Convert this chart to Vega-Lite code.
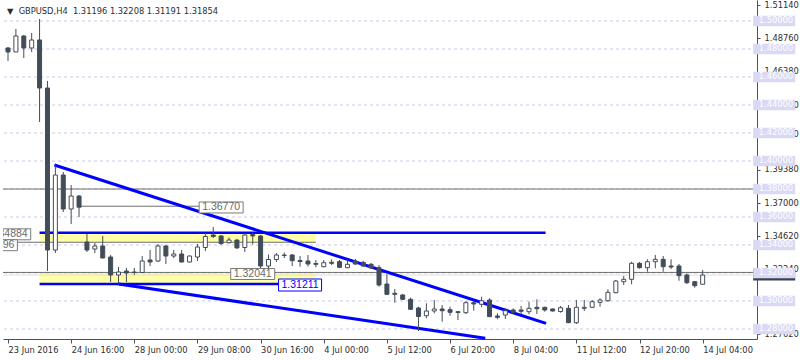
{
  "$schema": "https://vega.github.io/schema/vega-lite/v6.json",
  "autosize": {"type": "none"},
  "width": 754,
  "height": 339,
  "padding": {"left": 3, "top": 0, "right": 43, "bottom": 21},
  "background": "white",
  "config": {"view": {"stroke": null}, "font": "DejaVu Sans"},
  "title": {
    "text": "▼\u00a0\u00a0GBPUSD,H4\u00a0\u00a01.31196 1.32208 1.31191 1.31854",
    "anchor": "start", "frame": "group", "orient": "top", "offset": -22, "dx": 4,
    "font": "DejaVu Sans", "fontSize": 8.3, "fontWeight": "normal", "color": "#2e2e2e", "baseline": "alphabetic"
  },
  "datasets": {
    "candles": [
      {"i":0,"o":1.48071,"h":1.48143,"l":1.47143,"c":1.47786},
      {"i":1,"o":1.47786,"h":1.49429,"l":1.47786,"c":1.48929},
      {"i":2,"o":1.48929,"h":1.49000,"l":1.47357,"c":1.48071},
      {"i":3,"o":1.48071,"h":1.49143,"l":1.47786,"c":1.48643},
      {"i":4,"o":1.48643,"h":1.50143,"l":1.42786,"c":1.45214},
      {"i":5,"o":1.45214,"h":1.45714,"l":1.32143,"c":1.33643},
      {"i":6,"o":1.33643,"h":1.39714,"l":1.33429,"c":1.39000},
      {"i":7,"o":1.39000,"h":1.39214,"l":1.36357,"c":1.36571},
      {"i":8,"o":1.36571,"h":1.38286,"l":1.35500,"c":1.37500},
      {"i":9,"o":1.37500,"h":1.37571,"l":1.36000,"c":1.36700},
      {"i":10,"o":1.34214,"h":1.34786,"l":1.33500,"c":1.33643},
      {"i":11,"o":1.33714,"h":1.34143,"l":1.33429,"c":1.33929},
      {"i":12,"o":1.33929,"h":1.34643,"l":1.33050,"c":1.33071},
      {"i":13,"o":1.33143,"h":1.33286,"l":1.31357,"c":1.31857},
      {"i":14,"o":1.31857,"h":1.32429,"l":1.31211,"c":1.32071},
      {"i":15,"o":1.32143,"h":1.32357,"l":1.31357,"c":1.32000},
      {"i":16,"o":1.32071,"h":1.32357,"l":1.31857,"c":1.32036},
      {"i":17,"o":1.32036,"h":1.33214,"l":1.32000,"c":1.32857},
      {"i":18,"o":1.32929,"h":1.33643,"l":1.32500,"c":1.32786},
      {"i":19,"o":1.32857,"h":1.34071,"l":1.32786,"c":1.33929},
      {"i":20,"o":1.33929,"h":1.34000,"l":1.32643,"c":1.33214},
      {"i":21,"o":1.33214,"h":1.33643,"l":1.33071,"c":1.33357},
      {"i":22,"o":1.33357,"h":1.33643,"l":1.32750,"c":1.32786},
      {"i":23,"o":1.32786,"h":1.33250,"l":1.32750,"c":1.33214},
      {"i":24,"o":1.33143,"h":1.34071,"l":1.32857,"c":1.33857},
      {"i":25,"o":1.33821,"h":1.34857,"l":1.33571,"c":1.34607},
      {"i":26,"o":1.34714,"h":1.35286,"l":1.34500,"c":1.34607},
      {"i":27,"o":1.34643,"h":1.34714,"l":1.34000,"c":1.34107},
      {"i":28,"o":1.34164,"h":1.34536,"l":1.34107,"c":1.34357},
      {"i":29,"o":1.34357,"h":1.34393,"l":1.33750,"c":1.33786},
      {"i":30,"o":1.33821,"h":1.34857,"l":1.33500,"c":1.34714},
      {"i":31,"o":1.34750,"h":1.34857,"l":1.34036,"c":1.34643},
      {"i":32,"o":1.34643,"h":1.34714,"l":1.32143,"c":1.32500},
      {"i":33,"o":1.32500,"h":1.33321,"l":1.32286,"c":1.32964},
      {"i":34,"o":1.32964,"h":1.33429,"l":1.32786,"c":1.33286},
      {"i":35,"o":1.33250,"h":1.33464,"l":1.33071,"c":1.33286},
      {"i":36,"o":1.33286,"h":1.33357,"l":1.32500,"c":1.32879},
      {"i":37,"o":1.32893,"h":1.33214,"l":1.32450,"c":1.32821},
      {"i":38,"o":1.32857,"h":1.33286,"l":1.32464,"c":1.32643},
      {"i":39,"o":1.32679,"h":1.32929,"l":1.32407,"c":1.32621},
      {"i":40,"o":1.32450,"h":1.32929,"l":1.32407,"c":1.32736},
      {"i":41,"o":1.32764,"h":1.32979,"l":1.32571,"c":1.32693},
      {"i":42,"o":1.32807,"h":1.32929,"l":1.32336,"c":1.32407},
      {"i":43,"o":1.32379,"h":1.32979,"l":1.32336,"c":1.32621},
      {"i":44,"o":1.32857,"h":1.33000,"l":1.32571,"c":1.32643},
      {"i":45,"o":1.32764,"h":1.32857,"l":1.32429,"c":1.32500},
      {"i":46,"o":1.32621,"h":1.32714,"l":1.32286,"c":1.32357},
      {"i":47,"o":1.32379,"h":1.32571,"l":1.31021,"c":1.31143},
      {"i":48,"o":1.31214,"h":1.31907,"l":1.30429,"c":1.30479},
      {"i":49,"o":1.30550,"h":1.30857,"l":1.29879,"c":1.30479},
      {"i":50,"o":1.30429,"h":1.30500,"l":1.30071,"c":1.30121},
      {"i":51,"o":1.30121,"h":1.30236,"l":1.29357,"c":1.29407},
      {"i":52,"o":1.29500,"h":1.29593,"l":1.27857,"c":1.28893},
      {"i":53,"o":1.28950,"h":1.29836,"l":1.28764,"c":1.29286},
      {"i":54,"o":1.29286,"h":1.30071,"l":1.29121,"c":1.29429},
      {"i":55,"o":1.29429,"h":1.29714,"l":1.28521,"c":1.29307},
      {"i":56,"o":1.29379,"h":1.29593,"l":1.28950,"c":1.29193},
      {"i":57,"o":1.29236,"h":1.29264,"l":1.28643,"c":1.29179},
      {"i":58,"o":1.29164,"h":1.30000,"l":1.29071,"c":1.29879},
      {"i":59,"o":1.29879,"h":1.30000,"l":1.29307,"c":1.29786},
      {"i":60,"o":1.29764,"h":1.30307,"l":1.29550,"c":1.30021},
      {"i":61,"o":1.30071,"h":1.30193,"l":1.28857,"c":1.28879},
      {"i":62,"o":1.28929,"h":1.29121,"l":1.28693,"c":1.28836},
      {"i":63,"o":1.29000,"h":1.29479,"l":1.28714,"c":1.29307},
      {"i":64,"o":1.29357,"h":1.29479,"l":1.29071,"c":1.29193},
      {"i":65,"o":1.29357,"h":1.29643,"l":1.29071,"c":1.29264},
      {"i":66,"o":1.29236,"h":1.29950,"l":1.29050,"c":1.29479},
      {"i":67,"o":1.29550,"h":1.30121,"l":1.29071,"c":1.29450},
      {"i":68,"o":1.29550,"h":1.29593,"l":1.29236,"c":1.29357},
      {"i":69,"o":1.29429,"h":1.29464,"l":1.29250,"c":1.29286},
      {"i":70,"o":1.29250,"h":1.29643,"l":1.29164,"c":1.29521},
      {"i":71,"o":1.29479,"h":1.29714,"l":1.28429,"c":1.28450},
      {"i":72,"o":1.28450,"h":1.30071,"l":1.28357,"c":1.29550},
      {"i":73,"o":1.29479,"h":1.30071,"l":1.29286,"c":1.29550},
      {"i":74,"o":1.29550,"h":1.30071,"l":1.29500,"c":1.29950},
      {"i":75,"o":1.29907,"h":1.30193,"l":1.29593,"c":1.30071},
      {"i":76,"o":1.30021,"h":1.30836,"l":1.29950,"c":1.30621},
      {"i":77,"o":1.30593,"h":1.31500,"l":1.30550,"c":1.31429},
      {"i":78,"o":1.31379,"h":1.31786,"l":1.31143,"c":1.31550},
      {"i":79,"o":1.31550,"h":1.32807,"l":1.31193,"c":1.32693},
      {"i":80,"o":1.32693,"h":1.32786,"l":1.32307,"c":1.32379},
      {"i":81,"o":1.32379,"h":1.32979,"l":1.32093,"c":1.32807},
      {"i":82,"o":1.32807,"h":1.33286,"l":1.32336,"c":1.32979},
      {"i":83,"o":1.32979,"h":1.33214,"l":1.32093,"c":1.32450},
      {"i":84,"o":1.32500,"h":1.32979,"l":1.32286,"c":1.32429},
      {"i":85,"o":1.32500,"h":1.32643,"l":1.31450,"c":1.31807},
      {"i":86,"o":1.31857,"h":1.31979,"l":1.31214,"c":1.31307},
      {"i":87,"o":1.31379,"h":1.31429,"l":1.30950,"c":1.31093},
      {"i":88,"o":1.31196,"h":1.32208,"l":1.31191,"c":1.31854}
    ],
    "grid": [{"p":1.28},{"p":1.30},{"p":1.32},{"p":1.34},{"p":1.36},{"p":1.38},{"p":1.40},{"p":1.42},{"p":1.44},{"p":1.46},{"p":1.48},{"p":1.50}],
    "levels": [{"p":1.38},{"p":1.32041}],
    "bid": [{"p":1.31854}],
    "segs": [{"x1":9,"x2":24.4,"p":1.3677},{"x1":0,"x2":39,"p":1.34196}],
    "zones": [{"x1":4,"x2":39,"p1":1.34884,"p2":1.34196},{"x1":4,"x2":39,"p1":1.32041,"p2":1.31211}],
    "blueh": [{"x1":4,"x2":68.1,"p":1.34884},{"x1":4,"x2":34.4,"p":1.31211}],
    "trends": [{"x1":5.875,"p1":1.39714,"x2":68.16,"p2":1.28407},{"x1":14,"p1":1.31211,"x2":60.46,"p2":1.27336}],
    "notesGrey": [{"x":27,"p":1.3668,"t":"1.36770"},{"x":31,"p":1.31929,"t":"1.32041"},{"x":0.09,"p":1.34764,"t":"1.34884"},{"x":-1.6,"p":1.33986,"t":"1.34196"}],
    "notesBlue": [{"x":37,"p":1.31143,"t":"1.31211"}]
  },
  "layer": [
    {
      "data": {"name": "zones"},
      "mark": {"type": "rect", "color": "#ffffa6"},
      "encoding": {
        "x": {
          "field": "x1", "type": "quantitative",
          "scale": {"domain": [0, 94.25], "nice": false, "zero": false},
          "axis": {
            "title": null, "grid": false, "values": [0, 8, 16, 24, 32, 40, 48, 56, 64, 72, 80, 88], "tickCount": 30,
            "labelExpr": "['23 Jun 2016','24 Jun 16:00','28 Jun 00:00','29 Jun 08:00','30 Jun 16:00','4 Jul 00:00','5 Jul 12:00','6 Jul 20:00','8 Jul 04:00','11 Jul 12:00','12 Jul 20:00','14 Jul 04:00'][round(datum.value/8)]",
            "labelAlign": "left", "labelBaseline": "top", "labelPadding": 2, "tickSize": 4,
            "labelFont": "DejaVu Sans", "labelFontSize": 8.3, "labelColor": "#2e2e2e",
            "domainColor": "#4a525c", "tickColor": "#4a525c", "labelFlush": false, "labelOverlap": false, "orient": "bottom"
          }
        },
        "x2": {"field": "x2"},
        "y": {
          "field": "p1", "type": "quantitative",
          "scale": {"domain": [1.27286, 1.515], "nice": false, "zero": false},
          "axis": {
            "title": null, "grid": false, "orient": "right", "tickCount": 30,
            "values": [1.5114, 1.4876, 1.4638, 1.44, 1.4189, 1.3938, 1.37, 1.3462, 1.3224, 1.2762],
            "format": ".5f", "tickSize": 3, "labelPadding": 4,
            "labelFont": "DejaVu Sans", "labelFontSize": 8.3, "labelColor": "#2e2e2e",
            "domainColor": "#4a525c", "tickColor": "#4a525c", "labelFlush": false, "labelOverlap": false
          }
        },
        "y2": {"field": "p2"}
      }
    },
    {
      "data": {"name": "grid"},
      "mark": {"type": "rule", "color": "#c9c9ee", "strokeWidth": 1, "strokeDash": [3, 3]},
      "encoding": {"y": {"field": "p", "type": "quantitative"}}
    },
    {
      "data": {"name": "bid"},
      "mark": {"type": "rule", "color": "#dedede", "strokeWidth": 1},
      "encoding": {"y": {"field": "p", "type": "quantitative"}}
    },
    {
      "data": {"name": "levels"},
      "mark": {"type": "rule", "color": "#6e6e6e", "strokeWidth": 1},
      "encoding": {"y": {"field": "p", "type": "quantitative"}}
    },
    {
      "data": {"name": "segs"},
      "mark": {"type": "rule", "color": "#6e6e6e", "strokeWidth": 1, "clip": true},
      "encoding": {
        "x": {"field": "x1", "type": "quantitative"},
        "x2": {"field": "x2"},
        "y": {"field": "p", "type": "quantitative"}
      }
    },
    {
      "data": {"name": "blueh"},
      "mark": {"type": "rule", "color": "#0000ff", "strokeWidth": 2.5},
      "encoding": {
        "x": {"field": "x1", "type": "quantitative"},
        "x2": {"field": "x2"},
        "y": {"field": "p", "type": "quantitative"}
      }
    },
    {
      "data": {"name": "trends"},
      "mark": {"type": "rule", "color": "#0000ff", "strokeWidth": 3},
      "encoding": {
        "x": {"field": "x1", "type": "quantitative"},
        "x2": {"field": "x2"},
        "y": {"field": "p1", "type": "quantitative"},
        "y2": {"field": "p2"}
      }
    },
    {
      "data": {"name": "candles"},
      "mark": {"type": "rule", "color": "#434d59", "strokeWidth": 1, "clip": true},
      "encoding": {
        "x": {"field": "i", "type": "quantitative"},
        "y": {"field": "l", "type": "quantitative"},
        "y2": {"field": "h"}
      }
    },
    {
      "data": {"name": "candles"},
      "mark": {"type": "bar", "size": 4, "stroke": "#434d59", "strokeWidth": 1, "clip": true},
      "encoding": {
        "x": {"field": "i", "type": "quantitative"},
        "y": {"field": "o", "type": "quantitative"},
        "y2": {"field": "c"},
        "fill": {"condition": {"test": "datum.c >= datum.o", "value": "#ffffff"}, "value": "#434d59"}
      }
    },
    {
      "mark": {"type": "rule", "color": "#4a525c", "strokeWidth": 1},
      "encoding": {"x": {"datum": 0, "type": "quantitative"}}
    },
    {
      "data": {"name": "notesGrey"},
      "mark": {"type": "tick", "orient": "horizontal", "size": 44, "thickness": 11, "fill": "#ffffff", "stroke": "#7a7a7a", "strokeWidth": 1, "clip": true, "opacity": 1},
      "encoding": {
        "x": {"field": "x", "type": "quantitative"},
        "y": {"field": "p", "type": "quantitative"}
      }
    },
    {
      "data": {"name": "notesGrey"},
      "mark": {"type": "text", "font": "Liberation Sans", "fontSize": 10.5, "color": "#6a6a6a", "align": "center", "baseline": "middle", "clip": true},
      "encoding": {
        "x": {"field": "x", "type": "quantitative"},
        "y": {"field": "p", "type": "quantitative"},
        "text": {"field": "t"}
      }
    },
    {
      "data": {"name": "notesBlue"},
      "mark": {"type": "tick", "orient": "horizontal", "size": 43, "thickness": 12, "fill": "#ffffff", "stroke": "#0000ff", "strokeWidth": 1, "opacity": 1},
      "encoding": {
        "x": {"field": "x", "type": "quantitative"},
        "y": {"field": "p", "type": "quantitative"}
      }
    },
    {
      "data": {"name": "notesBlue"},
      "mark": {"type": "text", "font": "Liberation Sans", "fontSize": 10.5, "color": "#0000ff", "align": "center", "baseline": "middle"},
      "encoding": {
        "x": {"field": "x", "type": "quantitative"},
        "y": {"field": "p", "type": "quantitative"},
        "text": {"field": "t"}
      }
    },
    {
      "data": {"name": "bid"},
      "mark": {"type": "tick", "orient": "horizontal", "size": 42, "thickness": 11, "color": "#3a4350", "opacity": 1, "clip": false},
      "encoding": {
        "x": {"datum": 97.06, "type": "quantitative"},
        "y": {"field": "p", "type": "quantitative"}
      }
    },
    {
      "data": {"name": "grid"},
      "mark": {"type": "tick", "orient": "horizontal", "size": 42, "thickness": 10.5, "color": "#d9d9f5", "opacity": 1, "clip": false},
      "encoding": {
        "x": {"datum": 97.06, "type": "quantitative"},
        "y": {"field": "p", "type": "quantitative"}
      }
    },
    {
      "data": {"name": "grid"},
      "mark": {"type": "text", "font": "DejaVu Sans", "fontSize": 8.3, "color": "#ffffff", "align": "left", "baseline": "middle", "clip": false},
      "encoding": {
        "x": {"datum": 95.1, "type": "quantitative"},
        "y": {"field": "p", "type": "quantitative"},
        "text": {"field": "p", "format": ".5f"}
      }
    }
  ]
}
